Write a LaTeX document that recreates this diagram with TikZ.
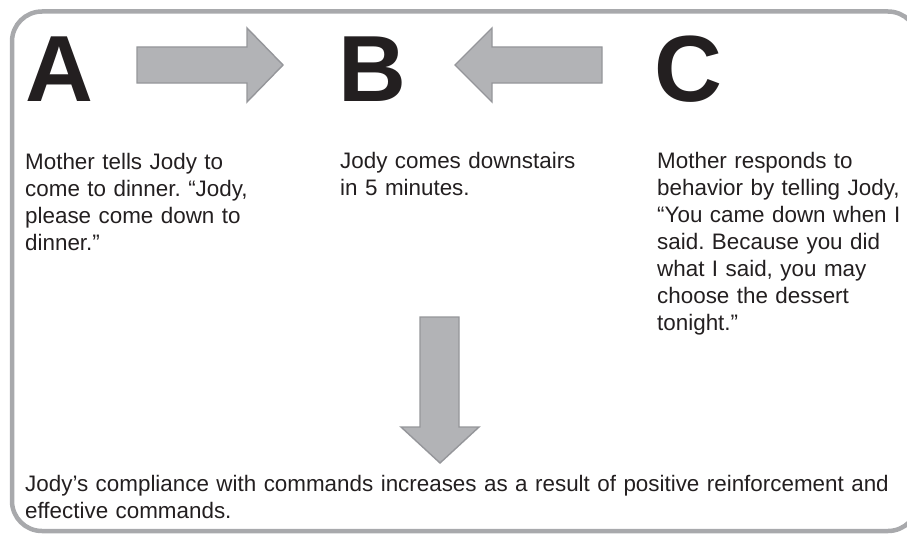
\documentclass[tikz,border=0pt]{standalone}
\usepackage{fontspec}
\setmainfont{Liberation Sans}
\frenchspacing
\definecolor{inkgrey}{HTML}{231F20}
\definecolor{framegrey}{HTML}{A8A9AC}
\definecolor{arrowfill}{HTML}{B2B3B6}
\definecolor{arrowedge}{HTML}{95969A}
\tikzset{
  letterbox/.style={anchor=base west, inner sep=0pt, text=inkgrey, font=\fontsize{94}{94}\selectfont\bfseries},
  bodytext/.style={anchor=base west, inner sep=0pt, text=inkgrey, align=left, font=\fontsize{22.4}{27}\selectfont},
  fatarrow/.style={fill=arrowfill, draw=arrowedge, line width=1.4pt, line join=miter},
}
\begin{document}
\begin{tikzpicture}[x=1pt,y=1pt,yscale=-1,xscale=1]
\useasboundingbox (0,0) rectangle (907,535);
\begin{scope}
\clip (0,0) rectangle (907,535);
%Rounded Rect frame
\draw [framegrey, line width=4.5pt, rounded corners=30pt] (12,11.5) rectangle (918,531);
\end{scope}

% Letters
\node [letterbox] (letA) at (25,101.5) {A};
\node [letterbox] (letB) at (338,101.5) {B};
\node [letterbox] (letC) at (654,101.5) {C};

%Right Arrow A -> B
\draw [fatarrow] (137,47) -- (247,47) -- (247,28) -- (283,65) -- (247,102) -- (247,83) -- (137,83) -- cycle ;
%Left Arrow C -> B
\draw [fatarrow] (602,47) -- (492,47) -- (492,28) -- (455,65) -- (492,102) -- (492,83) -- (602,83) -- cycle ;
%Down Arrow
\draw [fatarrow] (420,317) -- (459,317) -- (459,427) -- (479,427) -- (440,463) -- (401,427) -- (420,427) -- cycle ;

% Text Node
\node [bodytext, text width=280pt] (txtA) at (25,169) {Mother tells Jody to\\come to dinner. “Jody,\\please come down to\\dinner.”};
% Text Node
\node [bodytext, text width=280pt] (txtB) at (340,168) {Jody comes downstairs\\in 5 minutes.};
% Text Node
\node [bodytext, text width=245pt] (txtC) at (657,168) {Mother responds to\\behavior by telling Jody,\\“You came down when I\\said. Because you did\\what I said, you may\\choose the dessert\\tonight.”};
% Text Node
\node [bodytext, text width=875pt] (txtOut) at (25,491) {Jody’s compliance with commands increases as a result of positive reinforcement and\\effective commands.};

\end{tikzpicture}
\end{document}
